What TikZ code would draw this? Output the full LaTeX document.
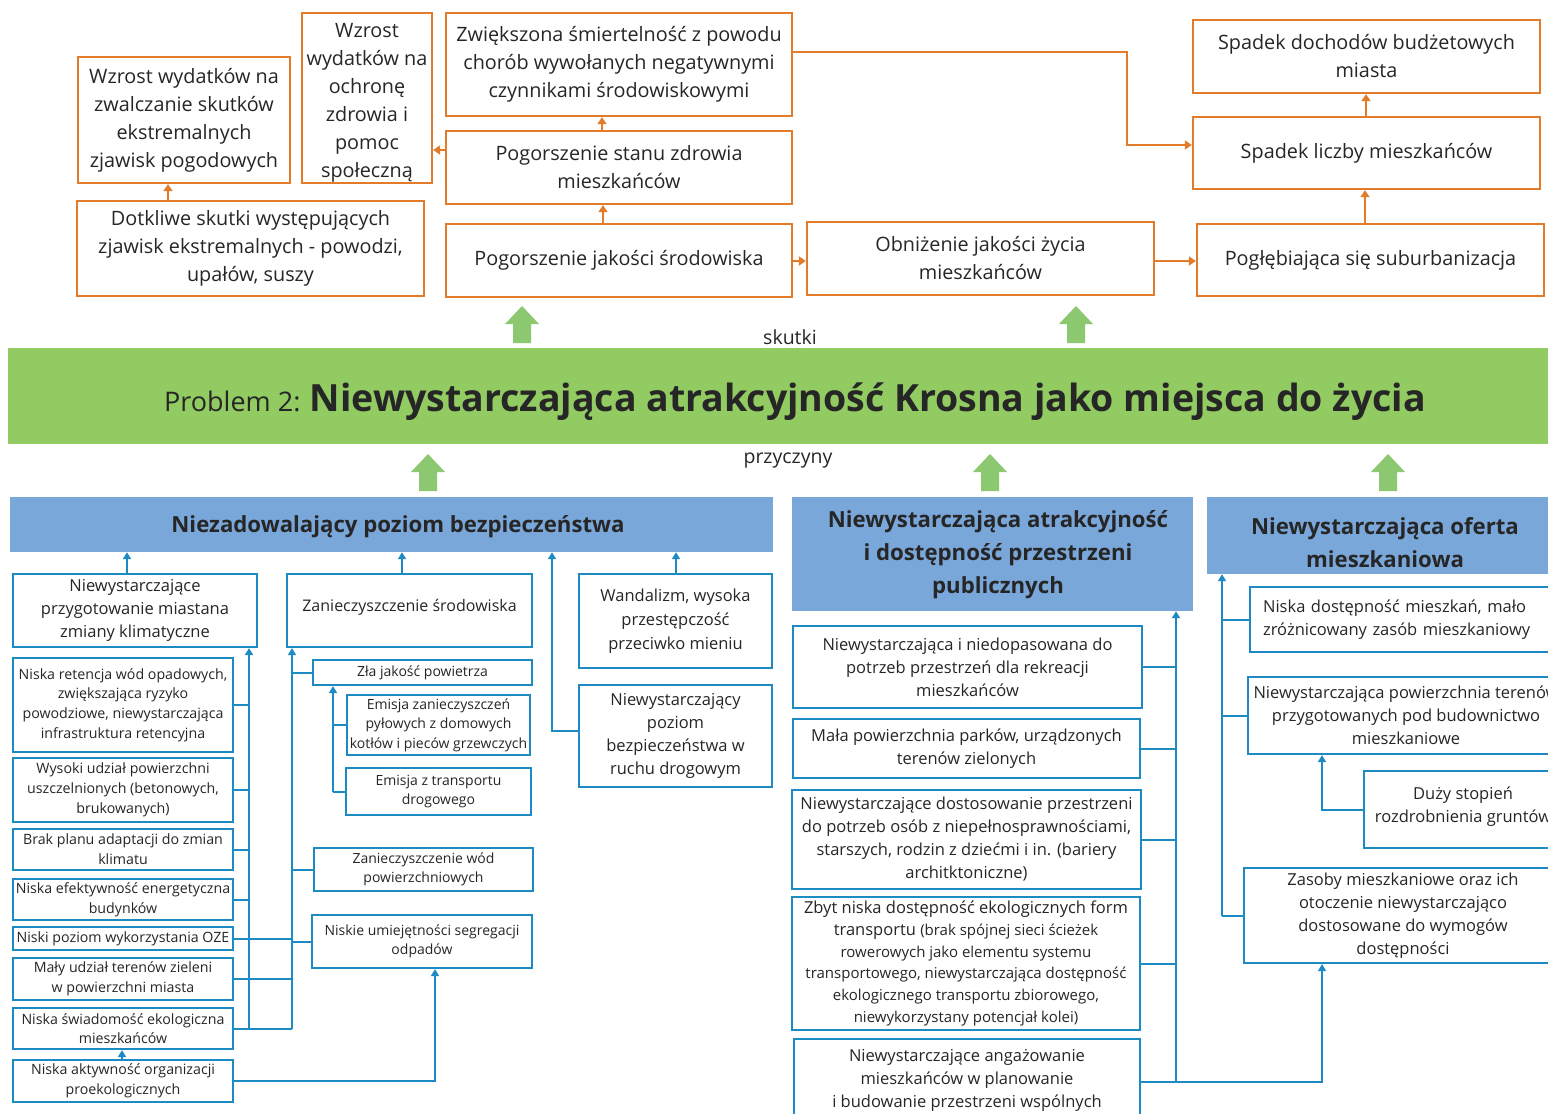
\documentclass[tikz,border=0pt]{standalone}
\usepackage{fontspec}
\setmainfont{Open Sans}
\usetikzlibrary{arrows.meta,calc}
\definecolor{org}{RGB}{226,124,42}
\definecolor{blu}{RGB}{30,138,196}
\definecolor{hdr}{RGB}{122,167,218}
\definecolor{grn}{RGB}{146,203,98}
\definecolor{garr}{RGB}{140,200,112}
\definecolor{txt}{RGB}{38,38,38}
\newcommand\fs[2]{\fontsize{#1}{#2}\selectfont}
\newcommand\bx[7]{\node[#6, minimum width={(#4)-(#2)}, minimum height={(#5)-(#3)}] (#1) at ({((#2)+(#4))/2},{((#3)+(#5))/2}) {#7};}
\newcommand\garrow[2]{\fill[garr] (#1-9,#2) -- (#1+9,#2) -- (#1+9,#2-19) -- (#1+17,#2-19) -- (#1,#2-37) -- (#1-17,#2-19) -- (#1-9,#2-19) -- cycle;}
\begin{document}
\begin{tikzpicture}[x=1pt,y=-1pt,
  obox/.style={draw=org, line width=2.3pt, inner sep=0pt, align=center, text=txt, font=\fs{19.8}{28}},
  bbox/.style={draw=blu, line width=2.2pt, inner sep=0pt, align=center, text=txt},
  hbox/.style={fill=hdr, draw=none, inner sep=0pt},
  htxt/.style={inner sep=0pt, align=center, text=txt, font=\bfseries\fs{22.2}{33}},
  oarr/.style={draw=org, line width=2pt, -{Triangle[width=9pt,length=7pt]}},
  barr/.style={draw=blu, line width=2pt, -{Triangle[width=8pt,length=7pt]}},
  bl/.style={draw=blu, line width=2pt},
  lbl/.style={text=txt, inner sep=0pt, font=\fs{19.5}{22}},
  sm/.style={font=\fs{14.2}{19.7}},
  zs/.style={font=\fs{14}{19.5}},
  md/.style={font=\fs{16.5}{23}}]
\useasboundingbox (0,0) rectangle (1548,1114);
\clip (0,0) rectangle (1548,1114);
\fill[white] (0,0) rectangle (1548,1114);

% ---------- top (effects) ----------
\bx{T1}{78}{57}{290}{183}{obox}{Wzrost wydatków na\\zwalczanie skutków\\ekstremalnych\\zjawisk pogodowych}
\bx{T2}{302}{13}{432}{183}{obox}{\rule{0pt}{23pt}Wzrost\\wydatków na\\ochronę\\zdrowia i\\pomoc\\społeczną}
\bx{T3}{446}{13}{792}{116}{obox}{Zwiększona śmiertelność z powodu\\chorób wywołanych negatywnymi\\czynnikami środowiskowymi}
\bx{T4}{446}{131}{792}{204}{obox}{Pogorszenie stanu zdrowia\\mieszkańców}
\bx{T5}{77}{201}{424}{296}{obox}{Dotkliwe skutki występujących\\zjawisk ekstremalnych - powodzi,\\upałów, suszy}
\bx{T6}{446}{224}{792}{297}{obox}{Pogorszenie jakości środowiska}
\bx{T7}{807}{222}{1154}{295}{obox}{Obniżenie jakości życia\\mieszkańców}
\bx{T8}{1197}{224}{1544}{296}{obox}{Pogłębiająca się suburbanizacja}
\bx{T9}{1193}{117}{1540}{189}{obox}{Spadek liczby mieszkańców}
\bx{T10}{1193}{20}{1540}{93}{obox}{Spadek dochodów budżetowych\\miasta}

\draw[oarr] (T5.north -| 168,0) -- (T1.south -| 168,0);
\draw[oarr] (T4.west |- 0,150) -- (T2.east |- 0,150);
\draw[oarr] (T4.north -| 602,0) -- (T3.south -| 602,0);
\draw[oarr] (T6.north -| 603,0) -- (T4.south -| 603,0);
\draw[oarr] (T6.east |- 0,261) -- (T7.west |- 0,261);
\draw[oarr] (T7.east |- 0,261) -- (T8.west |- 0,261);
\draw[oarr] (T8.north -| 1365,0) -- (T9.south -| 1365,0);
\draw[oarr] (T9.north -| 1366,0) -- (T10.south -| 1366,0);
\draw[oarr] (T3.east |- 0,52) -- (1127,52) |- (T9.west |- 0,145);

% ---------- banner ----------
\node[fill=grn, inner sep=0pt, minimum width=1550, minimum height=96] (ban) at (783,396) {};
\node[text=txt, inner sep=0pt, anchor=base] (title) at (795,411) {{\fs{27}{30}Problem 2: }{\bfseries\fs{37.5}{40}Niewystarczająca atrakcyjność Krosna jako miejsca do życia}};
\node[lbl] (sk) at (790,337) {skutki};
\node[lbl] (pr) at (788,461) {przyczyny};
\garrow{522}{343}
\garrow{1076}{343}
\garrow{428}{491}
\garrow{990}{491}
\garrow{1388}{491}

% ---------- headers ----------
\bx{H1}{10}{497}{773}{552}{hbox}{}
\bx{H2}{792}{497}{1193}{611}{hbox}{}
\bx{H3}{1207}{497}{1552}{574}{hbox}{}
\node[htxt] (H1t) at (398,527) {Niezadowalający poziom bezpieczeństwa};
\node[htxt] (H2t) at (998,555) {Niewystarczająca atrakcyjność\\i dostępność przestrzeni\\publicznych};
\node[htxt] (H3t) at (1385,543) {Niewystarczająca oferta\\mieszkaniowa};

% ---------- left group ----------
\bx{B1}{13}{574}{257}{647}{bbox,font=\fs{16.5}{23}}{Niewystarczające\\przygotowanie miastana\\zmiany klimatyczne}
\bx{B2}{287}{574}{532}{647}{bbox,font=\fs{16}{23}}{Zanieczyszczenie środowiska\\[-13pt]}
\bx{B3}{579}{574}{772}{668}{bbox,font=\fs{16.5}{24}}{Wandalizm, wysoka\\przestępczość\\przeciwko mieniu}
\bx{B4}{579}{685}{772}{787}{bbox,font=\fs{16.5}{23}}{Niewystarczający\\poziom\\bezpieczeństwa w\\ruchu drogowym}

\bx{L1}{13}{658}{233}{752}{bbox,sm}{Niska retencja wód opadowych,\\zwiększająca ryzyko\\powodziowe, niewystarczająca\\infrastruktura retencyjna}
\bx{L2}{13}{758}{233}{822}{bbox,sm}{Wysoki udział powierzchni\\uszczelnionych (betonowych,\\brukowanych)}
\bx{L3}{13}{829}{233}{870}{bbox,sm}{Brak planu adaptacji do zmian\\klimatu}
\bx{L4}{13}{879}{233}{920}{bbox,sm}{Niska efektywność energetyczna\\budynków}
\bx{L5}{13}{927}{233}{950}{bbox,sm}{Niski poziom wykorzystania OZE}
\bx{L6}{13}{958}{233}{1000}{bbox,sm}{Mały udział terenów zieleni\\w powierzchni miasta}
\bx{L7}{13}{1008}{233}{1049}{bbox,sm}{Niska świadomość ekologiczna\\mieszkańców}
\bx{L8}{13}{1060}{233}{1102}{bbox,sm}{Niska aktywność organizacji\\proekologicznych}

\bx{Z1}{313}{660}{532}{685}{bbox,zs}{Zła jakość powietrza}
\bx{Z2}{347}{695}{530}{755}{bbox,zs}{Emisja zanieczyszczeń\\pyłowych z domowych\\kotłów i pieców grzewczych}
\bx{Z3}{346}{768}{531}{815}{bbox,zs}{Emisja z transportu\\drogowego}
\bx{Z4}{314}{848}{533}{891}{bbox,zs}{Zanieczyszczenie wód\\powierzchniowych}
\bx{Z5}{312}{915}{532}{968}{bbox,zs}{Niskie umiejętności segregacji\\odpadów}

\draw[barr] (B1.north -| 127,0) -- (H1.south -| 127,0);
\draw[barr] (B2.north -| 402,0) -- (H1.south -| 402,0);
\draw[barr] (B3.north -| 676,0) -- (H1.south -| 676,0);
\draw[barr] (B4.west |- 0,731) -| (H1.south -| 552,0);

\coordinate (sp1) at (249,1028.5);
\coordinate (sp2) at (292,1028.5);
\draw[barr] (sp1) -- (B1.south -| sp1);
\draw[barr] (sp2) -- (B2.south -| sp2);
\foreach \n in {L1,L2,L3,L4} {\draw[bl] (\n.east) -- (\n.east -| sp1);}
\foreach \n in {L5,L6,L7} {\draw[bl] (\n.east) -- (\n.east -| sp2);}
\foreach \n in {Z1,Z4,Z5} {\draw[bl] (\n.west) -- (\n.west -| sp2);}
\coordinate (sp3) at (333,791.5);
\draw[barr] (sp3) -- (Z1.south -| sp3);
\foreach \n in {Z2,Z3} {\draw[bl] (\n.west) -- (\n.west -| sp3);}
\draw[barr] (L8.north -| 122,0) -- (L7.south -| 122,0);
\draw[barr] (L8.east) -| (Z5.south -| 435,0);

% ---------- middle group ----------
\bx{M1}{793}{626}{1142}{708}{bbox,md}{Niewystarczająca i niedopasowana do\\potrzeb przestrzeń dla rekreacji\\mieszkańców}
\bx{M2}{793}{719}{1140}{778}{bbox,md}{Mała powierzchnia parków, urządzonych\\terenów zielonych}
\bx{M3}{792}{790}{1141}{889}{bbox,md}{Niewystarczające dostosowanie przestrzeni\\do potrzeb osób z niepełnosprawnościami,\\starszych, rodzin z dziećmi i in. (bariery\\architktoniczne)}
\bx{M4}{792}{897}{1140}{1030}{bbox,font=\fs{16.5}{21.7}}{Zbyt niska dostępność ekologicznych form\\transportu {\fs{15}{21.7}(brak spójnej sieci ścieżek}\\{\fs{15}{21.7}rowerowych jako elementu systemu}\\{\fs{15}{21.7}transportowego, niewystarczająca dostępność}\\{\fs{15}{21.7}ekologicznego transportu zbiorowego,}\\{\fs{15}{21.7}niewykorzystany potencjał kolei)}}
\bx{M5}{794}{1039}{1140}{1122}{bbox,md}{Niewystarczające angażowanie\\mieszkańców w planowanie\\i budowanie przestrzeni wspólnych}

\coordinate (sp4) at (1176,1082);
\draw[barr] (sp4) -- (H2.south -| sp4);
\foreach \n in {M1,M2,M3,M4} {\draw[bl] (\n.east) -- (\n.east -| sp4);}
\draw[bl] (M5.east |- sp4) -- (sp4);

% ---------- right group ----------
\node[bbox, md, anchor=north west, align=left, text width=330, inner xsep=13, minimum height=65] (R1) at (1249,586) {Niska dostępność mieszkań, mało\\zróżnicowany zasób mieszkaniowy};
\bx{R2}{1248}{677}{1564}{754}{bbox,md}{Niewystarczająca powierzchnia terenów\\przygotowanych pod budownictwo\\mieszkaniowe}
\bx{R3}{1364}{771}{1562}{848}{bbox,md}{Duży stopień\\rozdrobnienia gruntów\\[-14pt]}
\bx{R4}{1244}{868}{1562}{963}{bbox,md}{Zasoby mieszkaniowe oraz ich\\otoczenie niewystarczająco\\dostosowane do wymogów\\dostępności}

\draw[barr] (sp4) -| (R4.south -| 1322,0);
\coordinate (sp5) at (1222,915.5);
\draw[barr] (sp5) -- (H3.south -| sp5);
\foreach \n in {R1,R2,R4} {\draw[bl] (\n.west) -- (\n.west -| sp5);}
\draw[barr] (R3.west) -| (R2.south -| 1322,0);
\end{tikzpicture}
\end{document}
